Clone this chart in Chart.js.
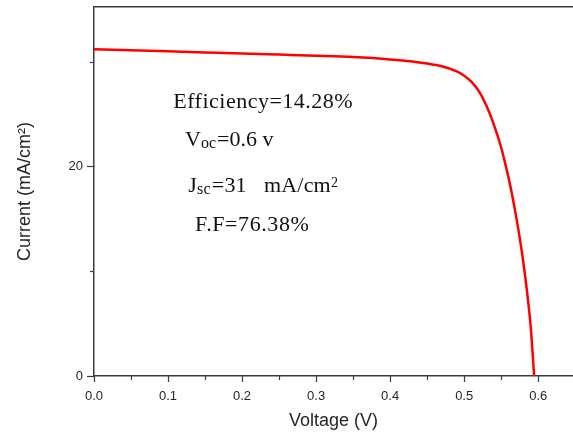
<!DOCTYPE html>
<html>
<head>
<meta charset="utf-8">
<script src="https://cdn.jsdelivr.net/npm/chart.js@4.4.1/dist/chart.umd.min.js"></script>
<style>
html,body{margin:0;padding:0;background:#fff;}
#wrap{width:573px;height:432px;}
</style>
</head>
<body>
<div id="wrap"><canvas id="c" width="573" height="432"></canvas></div>
<script>
// ---- data ----
const voltage = [0.00, 0.05, 0.10, 0.15, 0.20, 0.25, 0.30, 0.35, 0.40, 0.43, 0.45, 0.47, 0.49, 0.50, 0.51, 0.52, 0.53, 0.54, 0.55, 0.555, 0.56, 0.565, 0.57, 0.575, 0.58, 0.585, 0.59, 0.5945];
const current = [31.17, 31.07, 30.97, 30.87, 30.77, 30.66, 30.55, 30.42, 30.20, 30.00, 29.80, 29.55, 29.05, 28.65, 28.05, 27.15, 25.80, 24.00, 21.80, 20.40, 18.90, 17.20, 15.30, 13.20, 10.80, 8.00, 4.60, 0.00];
const xTickValues = [0, 0.05, 0.1, 0.15, 0.2, 0.25, 0.3, 0.35, 0.4, 0.45, 0.5, 0.55, 0.6];
const xTickLabels = ['0.0', '', '0.1', '', '0.2', '', '0.3', '', '0.4', '', '0.5', '', '0.6'];
const yTickValues = [0, 10, 20, 30];
const yTickLabels = ['0', '', '20', ''];
const xTitle = 'Voltage (V)';
const yTitle = 'Current (mA/cm²)';
// annotation texts: segments [text, kind] where kind = n (normal), sub, sup
const noteLines = [
  [['Efficiency=14.28%', 'n']],
  [['V', 'n'], ['oc', 'sub'], ['=0.6 v', 'n']],
  [['J', 'n'], ['sc', 'sub'], ['=31   mA/cm', 'n'], ['2', 'sup']],
  [['F.F=76.38%', 'n']]
];

// ---- layout / style (not data) ----
const notePos = [[0.107, 25.6], [0.123, 21.95], [0.1274, 17.59], [0.1365, 13.87]];
const noteSpacing = [0.5, 0, 0.2, 0.6];
const AXIS_COLOR = '#3c3c3c';
const TEXT_COLOR = '#262626';

const tickMarks = {
  id: 'tickMarks',
  afterDraw(chart) {
    const ctx = chart.ctx;
    const xs = chart.scales.x, ys = chart.scales.y;
    const area = chart.chartArea;
    ctx.save();
    ctx.strokeStyle = AXIS_COLOR;
    ctx.lineWidth = 1.2;
    xTickValues.forEach((v, i) => {
      const px = Math.round(xs.getPixelForValue(v)) + 0.5;
      const len = xTickLabels[i] ? 6 : 4;
      ctx.beginPath();
      ctx.moveTo(px, area.bottom);
      ctx.lineTo(px, area.bottom + len);
      ctx.stroke();
    });
    yTickValues.forEach((v, i) => {
      const py = Math.round(ys.getPixelForValue(v)) + 0.5;
      const len = yTickLabels[i] ? 7 : 4;
      ctx.beginPath();
      ctx.moveTo(area.left - len, py);
      ctx.lineTo(area.left, py);
      ctx.stroke();
    });
    ctx.restore();
  }
};

const notes = {
  id: 'notes',
  afterDatasetsDraw(chart) {
    const ctx = chart.ctx;
    const xs = chart.scales.x, ys = chart.scales.y;
    ctx.save();
    ctx.fillStyle = '#111';
    ctx.textBaseline = 'alphabetic';
    ctx.textAlign = 'left';
    noteLines.forEach((line, i) => {
      let x = xs.getPixelForValue(notePos[i][0]);
      const y = ys.getPixelForValue(notePos[i][1]);
      ctx.letterSpacing = noteSpacing[i] + 'px';
      line.forEach(([txt, kind]) => {
        let size = 22, dy = 0;
        if (kind === 'sub') { size = 16; dy = 2.5; }
        if (kind === 'sup') { size = 14; dy = -5; }
        ctx.font = size + 'px "Liberation Serif", "Times New Roman", serif';
        ctx.fillText(txt, x, y + dy);
        x += ctx.measureText(txt).width + (kind === 'sub' ? 1 : 0);
      });
    });
    ctx.restore();
  }
};

new Chart(document.getElementById('c'), {
  type: 'line',
  data: {
    datasets: [{
      data: voltage.map((v, i) => ({ x: v, y: current[i] })),
      borderColor: '#ff0000',
      borderWidth: 2.5,
      pointRadius: 0,
      fill: false,
      cubicInterpolationMode: 'monotone'
    }]
  },
  options: {
    responsive: false,
    animation: false,
    devicePixelRatio: 1,
    layout: { padding: { top: 7, right: 0, left: 0, bottom: 0 } },
    plugins: { legend: { display: false }, tooltip: { enabled: false } },
    scales: {
      x: {
        type: 'linear',
        position: 'bottom',
        min: 0,
        max: 0.647,
        afterBuildTicks: s => { s.ticks = xTickValues.map(v => ({ value: v })); },
        afterFit: s => { s.height = 56; s.paddingLeft = 0; s.paddingRight = 0; },
        grid: { display: false },
        border: { display: true, color: AXIS_COLOR, width: 1.5 },
        ticks: {
          autoSkip: false,
          maxRotation: 0,
          padding: 5,
          color: TEXT_COLOR,
          font: { family: '"Liberation Sans", Arial, sans-serif', size: 13 },
          callback: (v, i) => xTickLabels[i]
        },
        title: {
          display: true,
          text: xTitle,
          color: TEXT_COLOR,
          font: { family: '"Liberation Sans", Arial, sans-serif', size: 18 },
          padding: { top: 0, bottom: 0 }
        }
      },
      xTop: {
        type: 'linear',
        position: 'top',
        min: 0,
        max: 0.647,
        afterFit: s => { s.height = 0; s.paddingLeft = 0; s.paddingRight = 0; },
        grid: { display: false, drawTicks: false },
        border: { display: true, color: AXIS_COLOR, width: 1.5 },
        ticks: { display: false }
      },
      y: {
        type: 'linear',
        position: 'left',
        min: 0,
        max: 35.2,
        afterBuildTicks: s => { s.ticks = yTickValues.map(v => ({ value: v })); },
        afterFit: s => { s.width = 94; s.paddingTop = 0; s.paddingBottom = 0; },
        grid: { display: false },
        border: { display: true, color: AXIS_COLOR, width: 1.5 },
        ticks: {
          autoSkip: false,
          padding: 3,
          color: TEXT_COLOR,
          font: { family: '"Liberation Sans", Arial, sans-serif', size: 13 },
          callback: (v, i) => yTickLabels[i]
        },
        title: {
          display: true,
          text: yTitle,
          color: TEXT_COLOR,
          font: { family: '"Liberation Sans", Arial, sans-serif', size: 18 },
          padding: { top: 14, bottom: 0 }
        }
      }
    }
  },
  plugins: [tickMarks, notes]
});
</script>
</body>
</html>
